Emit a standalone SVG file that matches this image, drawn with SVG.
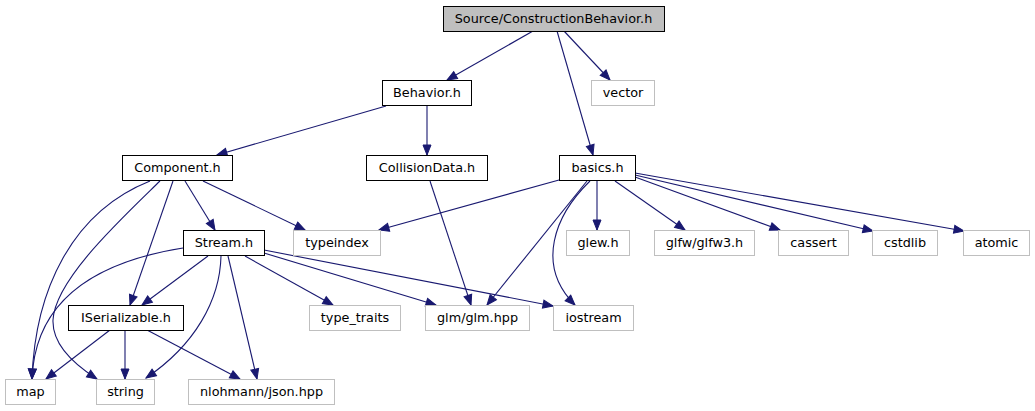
<svg xmlns="http://www.w3.org/2000/svg" width="1035" height="411" viewBox="0 0 1035 411">
<style>
  .n rect { fill: #ffffff; stroke: #000000; stroke-width: 1; }
  .g rect { fill: #ffffff; stroke: #bfbfbf; stroke-width: 1; }
  .root rect { fill: #bfbfbf; stroke: #000000; stroke-width: 1; }
  text { font-family: "DejaVu Sans", "Liberation Sans", sans-serif; font-size: 12.8px; fill: #000000; text-anchor: middle; }
  .e path { fill: none; stroke: #191970; stroke-width: 1.1; marker-end: url(#arr); }
</style>
<defs>
  <marker id="arr" markerUnits="userSpaceOnUse" markerWidth="14" markerHeight="12" refX="11" refY="5" orient="auto" style="overflow:visible">
    <path d="M1,1 L11,5 L1,9 Z" fill="#191970" stroke="#191970" stroke-width="1"/>
  </marker>
</defs>
<rect x="0" y="0" width="1035" height="411" fill="#ffffff"/>
<g id="connectors" class="e">
  <path d="M533,31 L447,80"/>
  <path d="M557,31 L593,155"/>
  <path d="M564,31 L610,80"/>
  <path d="M386,106 L217,155"/>
  <path d="M427,106 L427,155"/>
  <path d="M185,181 L215,230"/>
  <path d="M203,181 L305,230"/>
  <path d="M173,181 L130,305"/>
  <path d="M150,181 C72,212 35,290 32,379"/>
  <path d="M160,181 C120,220 55,280 53,320 C52,345 75,365 97,379"/>
  <path d="M430,181 L471,305"/>
  <path d="M559,180 L379,230"/>
  <path d="M587,181 L487,305"/>
  <path d="M590,181 C555,215 535,265 575,305"/>
  <path d="M597,181 L597,230"/>
  <path d="M615,181 L685,230"/>
  <path d="M635,177 L780,230"/>
  <path d="M635,175 L873,231"/>
  <path d="M635,173 L964,231"/>
  <path d="M183,248 C95,262 35,300 32,379"/>
  <path d="M208,256 L142,305"/>
  <path d="M221,256 C220,300 195,345 146,378"/>
  <path d="M228,256 L257,379"/>
  <path d="M245,256 L333,305"/>
  <path d="M264,253 L436,305"/>
  <path d="M264,250 L553,306"/>
  <path d="M110,330 L46,379"/>
  <path d="M125,330 L125,379"/>
  <path d="M147,330 L240,379"/>
</g>
<g id="node-root" class="root"><rect x="443.5" y="6.5" width="221" height="25"/><text x="553.5" y="23">Source/ConstructionBehavior.h</text></g>
<g id="node-behavior" class="n"><rect x="382.5" y="80.5" width="89" height="25"/><text x="427" y="97">Behavior.h</text></g>
<g id="node-vector" class="g"><rect x="591.5" y="80.5" width="63" height="25"/><text x="623" y="97">vector</text></g>
<g id="node-component" class="n"><rect x="122.5" y="155.5" width="110" height="25"/><text x="177.5" y="172">Component.h</text></g>
<g id="node-collisiondata" class="n"><rect x="366.5" y="155.5" width="121" height="25"/><text x="427" y="172">CollisionData.h</text></g>
<g id="node-basics" class="n"><rect x="559.5" y="155.5" width="76" height="25"/><text x="597.5" y="172">basics.h</text></g>
<g id="node-stream" class="n"><rect x="183.5" y="230.5" width="81" height="25"/><text x="224" y="247">Stream.h</text></g>
<g id="node-typeindex" class="g"><rect x="293.5" y="230.5" width="87" height="25"/><text x="337" y="247">typeindex</text></g>
<g id="node-glew" class="g"><rect x="566.5" y="230.5" width="63" height="25"/><text x="598" y="247">glew.h</text></g>
<g id="node-glfw" class="g"><rect x="654.5" y="230.5" width="100" height="25"/><text x="704.5" y="247">glfw/glfw3.h</text></g>
<g id="node-cassert" class="g"><rect x="778.5" y="230.5" width="70" height="25"/><text x="813.5" y="247">cassert</text></g>
<g id="node-cstdlib" class="g"><rect x="872.5" y="230.5" width="65" height="25"/><text x="905" y="247">cstdlib</text></g>
<g id="node-atomic" class="g"><rect x="963.5" y="230.5" width="66" height="25"/><text x="996.5" y="247">atomic</text></g>
<g id="node-iserializable" class="n"><rect x="68.5" y="305.5" width="115" height="25"/><text x="126" y="322">ISerializable.h</text></g>
<g id="node-type_traits" class="g"><rect x="309.5" y="305.5" width="91" height="25"/><text x="355" y="322">type_traits</text></g>
<g id="node-glm" class="g"><rect x="425.5" y="305.5" width="104" height="25"/><text x="477.5" y="322">glm/glm.hpp</text></g>
<g id="node-iostream" class="g"><rect x="553.5" y="305.5" width="80" height="25"/><text x="593.5" y="322">iostream</text></g>
<g id="node-map" class="g"><rect x="5.5" y="379.5" width="50" height="25"/><text x="30.5" y="396">map</text></g>
<g id="node-string" class="g"><rect x="96.5" y="379.5" width="58" height="25"/><text x="125.5" y="396">string</text></g>
<g id="node-json" class="g"><rect x="188.5" y="379.5" width="146" height="25"/><text x="261.5" y="396">nlohmann/json.hpp</text></g>
</svg>
